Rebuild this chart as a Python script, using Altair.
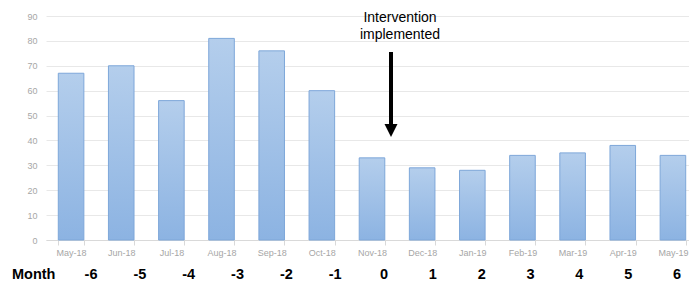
import altair as alt
import pandas as pd

months = ["May-18", "Jun-18", "Jul-18", "Aug-18", "Sep-18", "Oct-18", "Nov-18",
          "Dec-18", "Jan-19", "Feb-19", "Mar-19", "Apr-19", "May-19"]
values = [67, 70, 56, 81, 76, 60, 33, 29, 28, 34, 35, 38, 34]
month_index = [-6, -5, -4, -3, -2, -1, 0, 1, 2, 3, 4, 5, 6]
row_label = ["Month"]
annotation = ["Intervention\nimplemented"]

df = pd.DataFrame({"month": months, "value": values, "idx": month_index})

grad = alt.Gradient(
    gradient="linear",
    stops=[alt.GradientStop(color="#b4ceec", offset=0),
           alt.GradientStop(color="#8cb3e2", offset=1)],
    x1=0, x2=0, y1=0, y2=1,
)

bars = alt.Chart(df).mark_bar(color=grad, stroke="#7ea7d9", strokeWidth=1).encode(
    x=alt.X("month:N", sort=months,
            scale=alt.Scale(range=[0, 652], paddingInner=0.49, paddingOuter=0.245),
            axis=alt.Axis(title=None, labelAngle=0, labelColor="#a6a6a6", labelFontSize=9,
                          labelPadding=3, domainColor="#d9d9d9", tickColor="#d9d9d9",
                          tickSize=5, tickBand="extent", grid=False)),
    y=alt.Y("value:Q", scale=alt.Scale(domain=[0, 90], nice=False),
            axis=alt.Axis(title=None, values=list(range(0, 91, 10)), labelColor="#a6a6a6",
                          labelFontSize=9, labelPadding=9, ticks=False, domain=False,
                          gridColor="#e8e8e8")),
)

nums = alt.Chart(df).mark_text(fontSize=14.5, fontWeight="bold", color="black",
                               baseline="alphabetic").encode(
    x=alt.X("idx:Q", scale=alt.Scale(domain=[-6, 6], range=[45, 631]), axis=None),
    y=alt.value(263),
    text=alt.Text("idx:N"),
)

month_lbl = alt.Chart(pd.DataFrame({"t": row_label})).mark_text(
    fontSize=14.5, fontWeight="bold", color="black", align="left", baseline="alphabetic"
).encode(x=alt.value(-34), y=alt.value(263), text="t:N")

ann = alt.Chart(pd.DataFrame({"t": annotation})).mark_text(
    fontSize=14, color="black", align="center", baseline="alphabetic",
    lineBreak="\n", lineHeight=17
).encode(x=alt.value(354), y=alt.value(6), text="t:N")

arrow_line = alt.Chart(pd.DataFrame({"t": [0]})).mark_rule(strokeWidth=4, color="black").encode(
    x=alt.value(345), y=alt.value(36), y2=alt.value(110))

arrow_head = alt.Chart(pd.DataFrame({"t": [0]})).mark_point(
    shape="M-1,-1L1,-1L0,1Z", filled=True, size=169, color="black", opacity=1, strokeWidth=0
).encode(x=alt.value(345), y=alt.value(114.5))

chart = alt.layer(bars, nums, month_lbl, ann, arrow_line, arrow_head).resolve_scale(
    x="independent"
).properties(
    width=643, height=224,
    autosize=alt.AutoSizeParams(type="none"),
    padding={"left": 38, "top": 8, "right": 0, "bottom": 45},
).configure(font="Liberation Sans").configure_view(stroke=None)

chart.save("out.html", embed_options={"renderer": "svg", "actions": False})
